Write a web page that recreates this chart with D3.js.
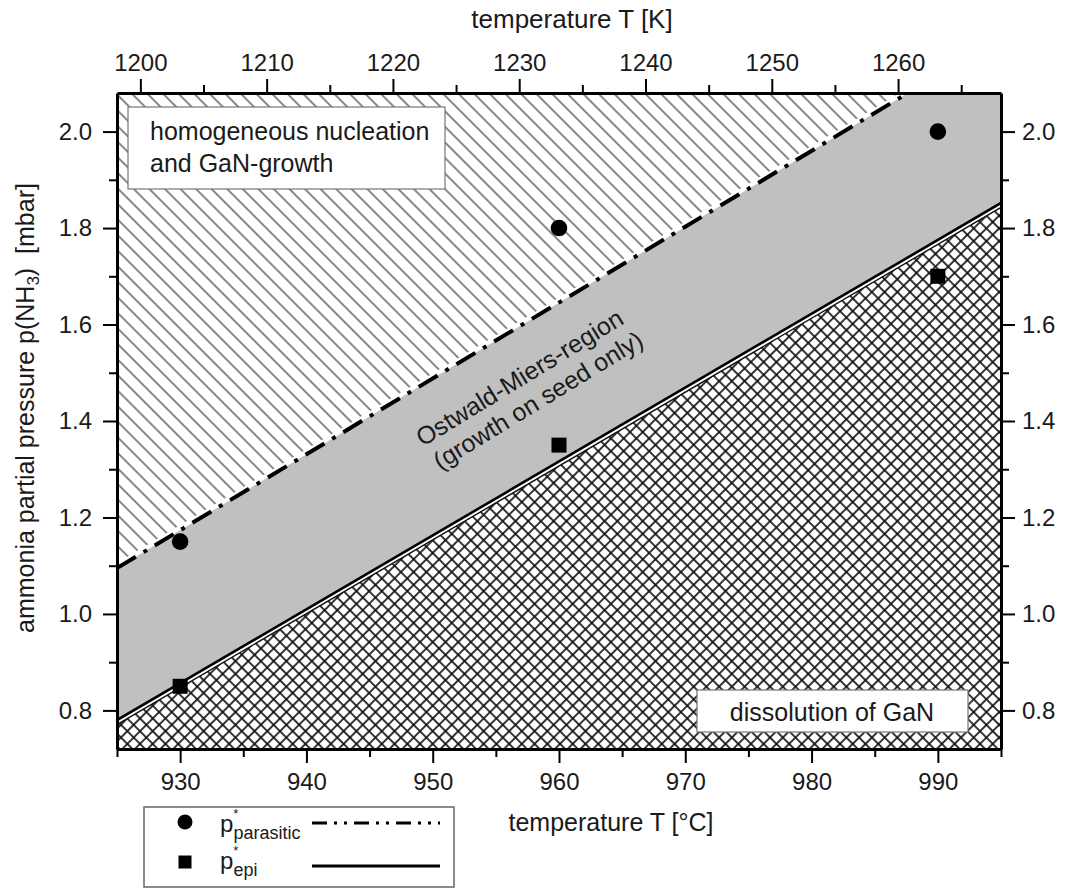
<!DOCTYPE html>
<html>
<head>
<meta charset="utf-8">
<script src="https://cdn.jsdelivr.net/npm/d3@7"></script>
<style>
body{margin:0;background:#fff}
text{font-family:"Liberation Sans",Arial,sans-serif}
</style>
</head>
<body>
<div id="canvas"></div>
<script>
"use strict"

// measured points
let tempC=[930,960,990]
let pParasitic=[1.15,1.80,2.00]
let pEpi=[0.85,1.35,1.70]

// fitted lines, end points at the plot edges
let fitT=[925,995]
let fitParasitic=[1.095,2.196]
let fitEpi=[0.78,1.852]

// ticks
let xTicks=[930,940,950,960,970,980,990]
let xMinor=[925,935,945,955,965,975,985,995]
let kTicks=[1200,1210,1220,1230,1240,1250,1260]
let kMinor=[1205,1215,1225,1235,1245,1255,1265]
let yTicks=[0.8,1.0,1.2,1.4,1.6,1.8,2.0]
let yMinor=[0.9,1.1,1.3,1.5,1.7,1.9]

let svgWidth=1065
let svgHeight=888
let plotLeft=117, plotRight=1001, plotTop=93, plotBottom=749
let font="Liberation Sans, Arial, sans-serif"

let drawing=d3.select("#canvas")
    .append("svg")
    .attr("width",svgWidth)
    .attr("height",svgHeight)

let x=d3.scaleLinear().domain([925,995]).range([plotLeft,plotRight])
let xK=d3.scaleLinear().domain([925+273.15,995+273.15]).range([plotLeft,plotRight])
let y=d3.scaleLinear().domain([0.72,2.08]).range([plotBottom,plotTop])

let defs=drawing.append("defs")
defs.append("clipPath").attr("id","plotClip")
    .append("rect")
    .attr("x",plotLeft).attr("y",plotTop)
    .attr("width",plotRight-plotLeft).attr("height",plotBottom-plotTop)

let hatch=defs.append("pattern")
    .attr("id","hatch")
    .attr("patternUnits","userSpaceOnUse")
    .attr("width",11).attr("height",11)
    .attr("patternTransform","rotate(-45)")
hatch.append("line")
    .attr("x1",5).attr("y1",0).attr("x2",5).attr("y2",11)
    .attr("stroke","#555").attr("stroke-width",1.4)

let cross=defs.append("pattern")
    .attr("id","cross")
    .attr("patternUnits","userSpaceOnUse")
    .attr("width",9).attr("height",9)
    .attr("patternTransform","rotate(45)")
cross.append("line")
    .attr("x1",4).attr("y1",0).attr("x2",4).attr("y2",9)
    .attr("stroke","#111").attr("stroke-width",1.7)
cross.append("line")
    .attr("x1",0).attr("y1",4).attr("x2",9).attr("y2",4)
    .attr("stroke","#111").attr("stroke-width",1.7)

let parasiticFit=fitT.map((t,i)=>({T:t,p:fitParasitic[i]}))
let epiFit=fitT.map((t,i)=>({T:t,p:fitEpi[i]}))

let plot=drawing.append("g").attr("clip-path","url(#plotClip)")

let background=plot.append("rect")
    .attr("x",plotLeft).attr("y",plotTop)
    .attr("width",plotRight-plotLeft).attr("height",plotBottom-plotTop)
    .attr("fill","#c0c0c0")

// region above p_parasitic
plot.append("path")
    .datum(parasiticFit)
    .attr("d",d3.area().x(d=>x(d.T)).y0(0).y1(d=>y(d.p)))
    .attr("fill","white")
plot.append("path")
    .datum(parasiticFit)
    .attr("d",d3.area().x(d=>x(d.T)).y0(0).y1(d=>y(d.p)-5))
    .attr("fill","url(#hatch)")

// region below p_epi
plot.append("path")
    .datum(epiFit)
    .attr("d",d3.area().x(d=>x(d.T)).y0(svgHeight).y1(d=>y(d.p)))
    .attr("fill","white")
plot.append("path")
    .datum(epiFit)
    .attr("d",d3.area().x(d=>x(d.T)).y0(svgHeight).y1(d=>y(d.p)+4.5))
    .attr("fill","url(#cross)")
plot.append("path")
    .datum(epiFit)
    .attr("d",d3.line().x(d=>x(d.T)).y(d=>y(d.p)+4.5))
    .attr("fill","none")
    .attr("stroke","#111")
    .attr("stroke-width",1.4)

let epiLine=plot.append("path")
    .datum(epiFit)
    .attr("d",d3.line().x(d=>x(d.T)).y(d=>y(d.p)))
    .attr("fill","none")
    .attr("stroke","black")
    .attr("stroke-width",2.6)

let parasiticLine=plot.append("path")
    .datum(parasiticFit)
    .attr("d",d3.line().x(d=>x(d.T)).y(d=>y(d.p)))
    .attr("fill","none")
    .attr("stroke","black")
    .attr("stroke-width",4)
    .attr("stroke-dasharray","22,9,4,9")

// label boxes
let boxTop=drawing.append("rect")
    .attr("x",128).attr("y",107)
    .attr("width",317).attr("height",82)
    .attr("fill","white").attr("stroke","#777").attr("stroke-width",1.2)
drawing.append("text")
    .attr("x",150).attr("y",140)
    .attr("font-size",25).attr("fill","#1a1a1a")
    .text("homogeneous nucleation")
drawing.append("text")
    .attr("x",150).attr("y",172)
    .attr("font-size",25).attr("fill","#1a1a1a")
    .text("and GaN-growth")

let boxBottom=drawing.append("rect")
    .attr("x",697).attr("y",690)
    .attr("width",271).attr("height",42)
    .attr("fill","white").attr("stroke","#777").attr("stroke-width",1.2)
drawing.append("text")
    .attr("x",832).attr("y",721)
    .attr("text-anchor","middle")
    .attr("font-size",25).attr("fill","#1a1a1a")
    .text("dissolution of GaN")

let regionLabel=drawing.append("g")
    .attr("transform","translate(524,385) rotate(-31.5)")
regionLabel.append("text")
    .attr("x",0).attr("y",0)
    .attr("text-anchor","middle")
    .attr("font-size",25).attr("fill","#1a1a1a")
    .text("Ostwald-Miers-region")
regionLabel.append("text")
    .attr("x",4).attr("y",29)
    .attr("text-anchor","middle")
    .attr("font-size",25).attr("fill","#1a1a1a")
    .text("(growth on seed only)")

// data points
drawing.selectAll(".parasitic")
    .data(tempC)
    .enter().append("circle")
    .attr("cx",d=>x(d))
    .attr("cy",(d,i)=>y(pParasitic[i]))
    .attr("r",8.3)
    .attr("fill","black")

drawing.selectAll(".epi")
    .data(tempC)
    .enter().append("rect")
    .attr("x",d=>x(d)-7.5)
    .attr("y",(d,i)=>y(pEpi[i])-7.5)
    .attr("width",15).attr("height",15)
    .attr("fill","black")

// axes
function styleAxis(g){
    g.attr("font-size",24).attr("font-family",font)
    g.select(".domain").attr("stroke","black").attr("stroke-width",3)
    g.selectAll(".tick line").attr("stroke","black").attr("stroke-width",2)
    g.selectAll(".tick text").attr("fill","#1a1a1a")
}
function styleMinor(g){
    g.select(".domain").remove()
    g.selectAll(".tick line").attr("stroke","black").attr("stroke-width",2)
    g.selectAll(".tick text").remove()
}

drawing.append("g").attr("transform",`translate(0,${plotBottom})`)
    .call(d3.axisBottom(x).tickValues(xMinor).tickSize(8).tickSizeOuter(0)).call(styleMinor)
drawing.append("g").attr("transform",`translate(0,${plotTop})`)
    .call(d3.axisTop(xK).tickValues(kMinor).tickSize(8).tickSizeOuter(0)).call(styleMinor)
drawing.append("g").attr("transform",`translate(${plotLeft},0)`)
    .call(d3.axisLeft(y).tickValues(yMinor).tickSize(8).tickSizeOuter(0)).call(styleMinor)
drawing.append("g").attr("transform",`translate(${plotRight},0)`)
    .call(d3.axisRight(y).tickValues(yMinor).tickSize(8).tickSizeOuter(0)).call(styleMinor)

drawing.append("g").attr("transform",`translate(0,${plotBottom})`)
    .call(d3.axisBottom(x).tickValues(xTicks).tickSize(14).tickSizeOuter(0).tickPadding(10)).call(styleAxis)
drawing.append("g").attr("transform",`translate(0,${plotTop})`)
    .call(d3.axisTop(xK).tickValues(kTicks).tickSize(14).tickSizeOuter(0).tickPadding(8).tickFormat(d3.format("d"))).call(styleAxis)
drawing.append("g").attr("transform",`translate(${plotLeft},0)`)
    .call(d3.axisLeft(y).tickValues(yTicks).tickSize(14).tickSizeOuter(0).tickPadding(11).tickFormat(d3.format(".1f"))).call(styleAxis)
drawing.append("g").attr("transform",`translate(${plotRight},0)`)
    .call(d3.axisRight(y).tickValues(yTicks).tickSize(14).tickSizeOuter(0).tickPadding(7).tickFormat(d3.format(".1f"))).call(styleAxis)

// axis titles
drawing.append("text")
    .attr("x",572).attr("y",28)
    .attr("text-anchor","middle")
    .attr("font-size",26).attr("fill","#1a1a1a")
    .text("temperature T [K]")
drawing.append("text")
    .attr("x",611).attr("y",831)
    .attr("text-anchor","middle")
    .attr("font-size",25).attr("fill","#1a1a1a")
    .text("temperature T [°C]")

let yTitle=drawing.append("text")
    .attr("transform","translate(34,408) rotate(-90)")
    .attr("text-anchor","middle")
    .attr("font-size",25).attr("fill","#1a1a1a")
    .style("white-space","pre")
yTitle.append("tspan").text("ammonia partial pressure p(NH")
yTitle.append("tspan").attr("font-size",17).attr("dy",5).text("3")
yTitle.append("tspan").attr("dy",-5).text(")  [mbar]")

// legend
let legend=drawing.append("g")
legend.append("rect")
    .attr("x",144).attr("y",807)
    .attr("width",310).attr("height",80)
    .attr("fill","white").attr("stroke","#666").attr("stroke-width",1.5)
legend.append("circle")
    .attr("cx",185).attr("cy",822).attr("r",7.5).attr("fill","black")
legend.append("rect")
    .attr("x",178.5).attr("y",855.5).attr("width",13).attr("height",13).attr("fill","black")

let legendParasitic=legend.append("text").attr("x",220).attr("y",832).attr("font-size",24).attr("fill","#1a1a1a")
legendParasitic.append("tspan").text("p")
legendParasitic.append("tspan").attr("font-size",13).attr("dy",-14).text("*")
legendParasitic.append("tspan").attr("font-size",18).attr("dx",-5).attr("dy",21).text("parasitic")

let legendEpi=legend.append("text").attr("x",220).attr("y",869).attr("font-size",24).attr("fill","#1a1a1a")
legendEpi.append("tspan").text("p")
legendEpi.append("tspan").attr("font-size",13).attr("dy",-14).text("*")
legendEpi.append("tspan").attr("font-size",18).attr("dx",-5).attr("dy",21).text("epi")

legend.append("line")
    .attr("x1",312).attr("y1",823).attr("x2",440).attr("y2",823)
    .attr("stroke","black").attr("stroke-width",3)
    .attr("stroke-dasharray","15,7,3,7,3,7")
legend.append("line")
    .attr("x1",312).attr("y1",866).attr("x2",440).attr("y2",866)
    .attr("stroke","black").attr("stroke-width",3)
</script>
</body>
</html>
